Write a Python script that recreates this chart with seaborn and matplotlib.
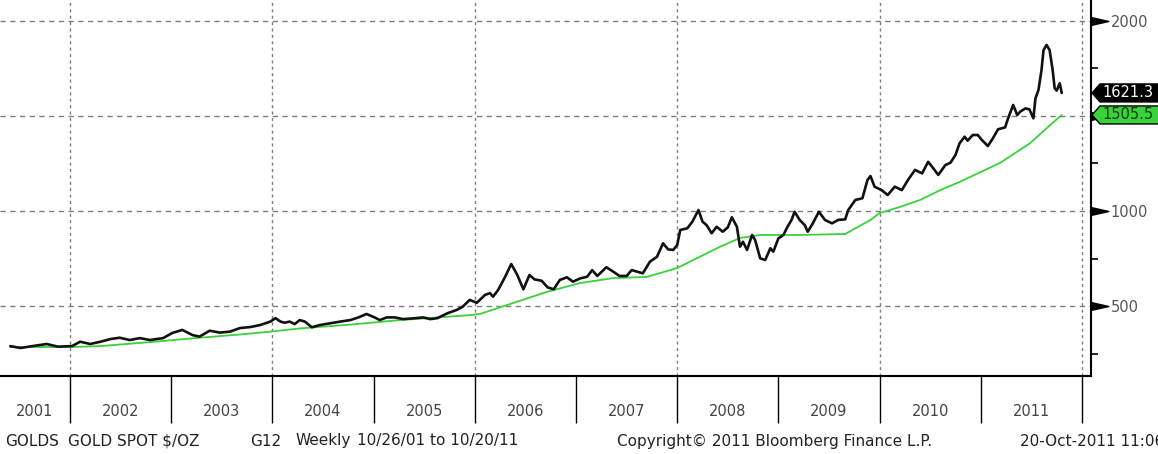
import matplotlib
matplotlib.use("Agg")
import matplotlib.pyplot as plt
import seaborn as sns
import pandas as pd
from matplotlib.patches import Polygon
from matplotlib.transforms import blended_transform_factory

# ---------------- data ----------------
gold_year = [2001.41, 2001.51, 2001.63, 2001.77, 2001.88, 2002.02, 2002.10, 2002.20, 2002.30, 2002.40,
             2002.49, 2002.59, 2002.69, 2002.79, 2002.92, 2003.01, 2003.11, 2003.21, 2003.28, 2003.38,
             2003.48, 2003.58, 2003.68, 2003.78, 2003.88, 2003.98, 2004.03, 2004.08, 2004.12, 2004.17,
             2004.22, 2004.27, 2004.32, 2004.39, 2004.47, 2004.57, 2004.67, 2004.77, 2004.85, 2004.93,
             2005.01, 2005.06, 2005.13, 2005.21, 2005.29, 2005.39, 2005.49, 2005.56, 2005.63, 2005.73,
             2005.82, 2005.88, 2005.95, 2006.02, 2006.10, 2006.15, 2006.18, 2006.23, 2006.30, 2006.36,
             2006.42, 2006.48, 2006.54, 2006.59, 2006.66, 2006.72, 2006.78, 2006.84, 2006.91, 2006.97,
             2007.04, 2007.11, 2007.16, 2007.21, 2007.30, 2007.37, 2007.43, 2007.50, 2007.55, 2007.61,
             2007.66, 2007.73, 2007.80, 2007.86, 2007.91, 2007.96, 2008.00, 2008.03, 2008.10, 2008.15,
             2008.21, 2008.25, 2008.29, 2008.34, 2008.39, 2008.45, 2008.50, 2008.54, 2008.59, 2008.62,
             2008.65, 2008.69, 2008.74, 2008.77, 2008.82, 2008.87, 2008.92, 2008.95, 2009.00, 2009.05,
             2009.09, 2009.13, 2009.16, 2009.21, 2009.26, 2009.29, 2009.34, 2009.40, 2009.46, 2009.53,
             2009.59, 2009.66, 2009.69, 2009.76, 2009.83, 2009.88, 2009.91, 2009.95, 2010.02, 2010.08,
             2010.15, 2010.22, 2010.28, 2010.35, 2010.42, 2010.48, 2010.53, 2010.58, 2010.65, 2010.70,
             2010.75, 2010.79, 2010.84, 2010.87, 2010.92, 2010.97, 2011.01, 2011.07, 2011.12, 2011.17,
             2011.24, 2011.27, 2011.32, 2011.36, 2011.39, 2011.44, 2011.48, 2011.52, 2011.54, 2011.57,
             2011.60, 2011.62, 2011.65, 2011.68, 2011.71, 2011.73, 2011.75, 2011.78, 2011.80]
gold_price = [289, 279, 289, 300, 286, 289, 312, 300, 312, 326,
              333, 321, 331, 321, 331, 358, 374, 347, 339, 370,
              360, 365, 384, 389, 400, 418, 436, 418, 412, 418,
              405, 426, 418, 388, 400, 409, 418, 426, 440, 458,
              440, 426, 440, 440, 431, 435, 440, 431, 436, 462,
              479, 496, 532, 517, 558, 568, 549, 584, 654, 721,
              663, 588, 663, 640, 633, 598, 588, 637, 651, 628,
              645, 654, 689, 658, 704, 680, 658, 658, 689, 680,
              672, 733, 759, 830, 798, 795, 821, 900, 909, 944,
              1005, 944, 926, 883, 917, 891, 914, 967, 917, 812,
              838, 795, 874, 847, 751, 742, 804, 786, 856, 874,
              917, 953, 996, 953, 926, 891, 935, 996, 953, 935,
              953, 956, 1005, 1058, 1067, 1163, 1184, 1128, 1110, 1084,
              1128, 1110, 1163, 1216, 1198, 1259, 1225, 1190, 1242, 1254,
              1295, 1356, 1391, 1370, 1400, 1400, 1374, 1342, 1383, 1430,
              1440, 1488, 1558, 1505, 1523, 1540, 1535, 1488, 1593, 1637,
              1742, 1847, 1874, 1847, 1742, 1646, 1634, 1672, 1621.3]

ma_year = [2001.41, 2002.02, 2002.30, 2002.79, 2003.28, 2003.68, 2003.98, 2004.27, 2004.77, 2005.26,
           2005.56, 2005.95, 2006.05, 2006.38, 2006.71, 2007.04, 2007.37, 2007.70, 2008.00, 2008.42,
           2008.62, 2008.82, 2009.21, 2009.66, 2009.91, 2010.00, 2010.20, 2010.40, 2010.60, 2010.79,
           2011.19, 2011.49, 2011.63, 2011.80]
ma_price = [284, 284, 289, 310, 333, 350, 365, 382, 402, 426,
            437, 452, 458, 516, 574, 621, 647, 653, 700, 811,
            858, 874, 874, 879, 953, 989, 1021, 1058, 1110, 1153,
            1253, 1358, 1426, 1505.5]

year_labels = ['2001', '2002', '2003', '2004', '2005', '2006',
               '2007', '2008', '2009', '2010', '2011']
year_bounds = [2002, 2003, 2004, 2005, 2006, 2007, 2008, 2009, 2010, 2011, 2012]
grid_years = [2002, 2004, 2006, 2008, 2010, 2012]
y_major = [500, 1000, 1500, 2000]
y_labeled = [500, 1000, 2000]          # 1500 sits under the green value tag
y_minor = [250, 750, 1250, 1750]

footer_parts = [("GOLDS", 5), ("GOLD SPOT $/OZ", 68), ("G12", 250), ("Weekly", 296),
                ("10/26/01 to 10/20/11", 357), ("Copyright\u00a9 2011 Bloomberg Finance L.P.", 617),
                ("20-Oct-2011 11:06", 1020)]

# ---------------- figure ----------------
sns.set_style("white")
plt.rcParams['font.family'] = ['DejaVu Sans']

W, H = 1158, 454
AX_R, AX_B = 1091, 376
fig = plt.figure(figsize=(W / 100, H / 100), dpi=100)
fig.patch.set_facecolor('white')
ax = fig.add_axes([0, 1 - AX_B / H, AX_R / W, AX_B / H])
xmin, xmax = 2001.308, 2012.089
ymin, ymax = 131.6, 2110.5
ax.set_xlim(xmin, xmax)
ax.set_ylim(ymin, ymax)

# grid
for yv in y_major:
    ax.axhline(yv, color='#7c7c7c', lw=1.0, ls=(0, (3.8, 3.2)), zorder=1)
for xv in grid_years:
    ax.axvline(xv, color='#7c7c7c', lw=1.0, ls=(0, (2.2, 2.4)), zorder=1)

df_ma = pd.DataFrame({'year': ma_year, 'price': ma_price})
df_gold = pd.DataFrame({'year': gold_year, 'price': gold_price})
sns.lineplot(data=df_ma, x='year', y='price', ax=ax, color='#3ad13a', lw=1.3,
             estimator=None, sort=False, zorder=3)
sns.lineplot(data=df_gold, x='year', y='price', ax=ax, color='#111111', lw=1.9,
             estimator=None, sort=False, zorder=4)
ax.set_xlabel('')
ax.set_ylabel('')

# spines
for s in ['top', 'left']:
    ax.spines[s].set_visible(False)
for s in ['right', 'bottom']:
    ax.spines[s].set_color('black')
    ax.spines[s].set_linewidth(1.5)

# x axis: separators + year labels centred in each year
ax.set_xticks(year_bounds)
ax.set_xticklabels([''] * len(year_bounds))
ax.tick_params(axis='x', which='major', bottom=True, length=34, width=1.0, color='black',
               direction='out')
centers = [(max(int(l), xmin) + min(int(l) + 1, xmax)) / 2 for l in year_labels]
ax.set_xticks(centers, minor=True)
ax.set_xticklabels(year_labels, minor=True)
ax.tick_params(axis='x', which='minor', bottom=True, length=0, pad=20, labelsize=10.5,
               labelcolor='#444444')

# y axis on the right
ax.yaxis.tick_right()
ax.set_yticks(y_labeled)
ax.set_yticklabels([str(v) for v in y_labeled])
ax.tick_params(axis='y', which='major', right=True, length=0, pad=14, labelsize=10.5,
               labelcolor='#555555')
ax.set_yticks(y_minor, minor=True)
ax.tick_params(axis='y', which='minor', right=True, length=5, width=1.2, color='black',
               direction='out')

blend = blended_transform_factory(ax.transAxes, ax.transData)
px_x = 1.0 / AX_R
px_y = (ymax - ymin) / AX_B

# pennant markers at major ticks
pennant = [(-1, 0.45), (1, 0), (-1, -0.45), (-1, 0.45)]
ax.plot([1 + 9 * px_x] * len(y_major), y_major, transform=blend, ls='none',
        marker=pennant, ms=12, color='black', clip_on=False, zorder=5)

# value tags
def tag(value, face, txtcolor):
    h = 9 * px_y
    verts = [(1 + 1 * px_x, value), (1 + 9 * px_x, value + h), (1 + 80 * px_x, value + h),
             (1 + 80 * px_x, value - h), (1 + 9 * px_x, value - h)]
    poly = Polygon(verts, closed=True, transform=blend, facecolor=face, edgecolor='black',
                   lw=1.0, clip_on=False, zorder=10)
    ax.add_patch(poly)
    ax.text(1 + 11 * px_x, value, f"{value:.1f}", transform=blend, va='center', ha='left',
            fontsize=10.5, color=txtcolor, clip_on=False, zorder=11)

tag(gold_price[-1], '#000000', 'white')
tag(ma_price[-1], '#3ad13a', '#0d3d0d')

# footer
for txt, xp in footer_parts:
    fig.text(xp / W, 1 - 441 / H, txt, va='center', ha='left', fontsize=11, color='#222222')

fig.savefig('out.png', dpi=100, facecolor='white')
